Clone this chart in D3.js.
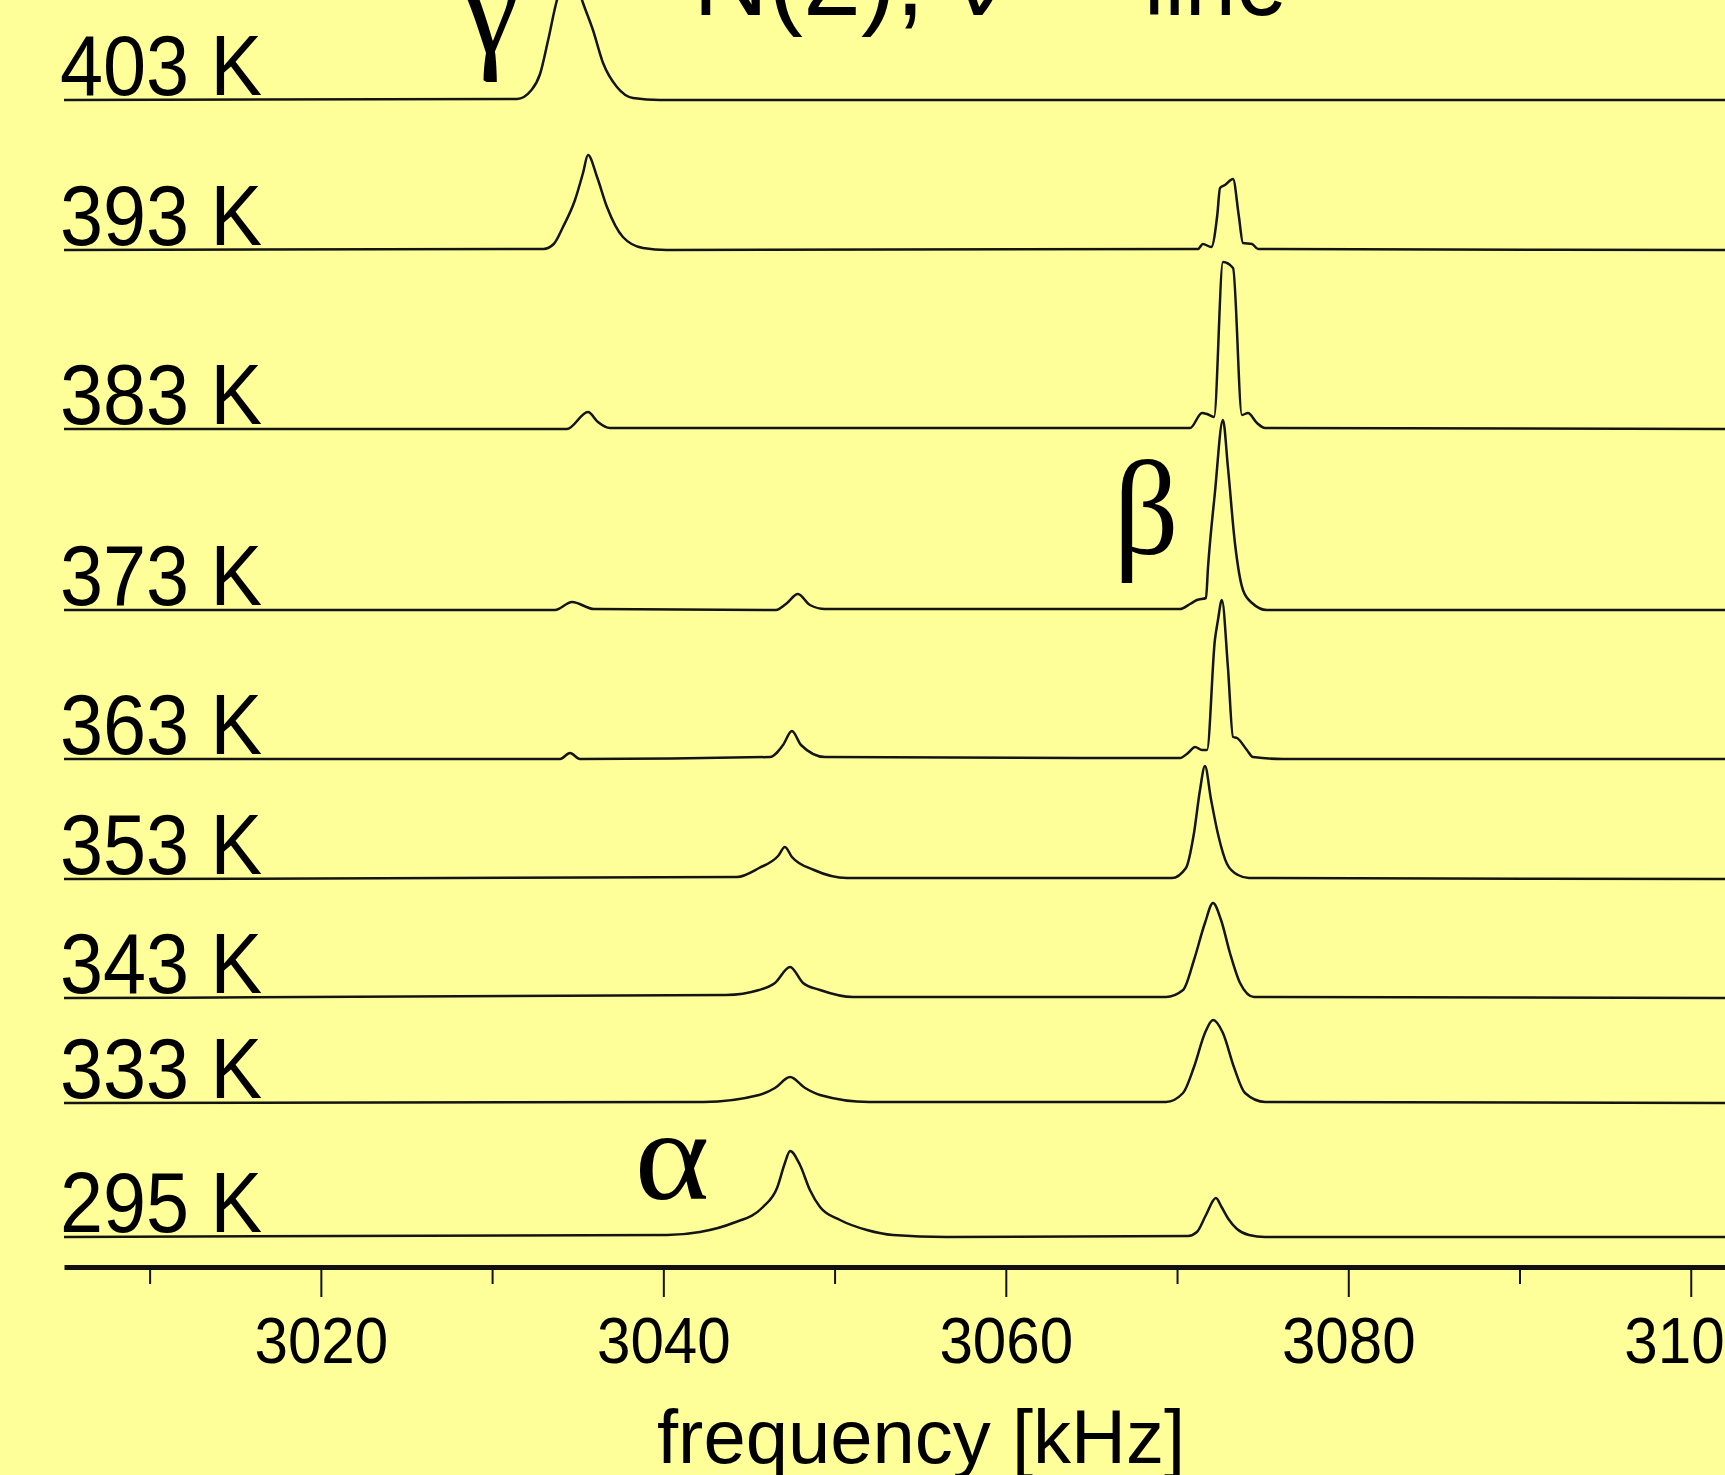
<!DOCTYPE html>
<html>
<head>
<meta charset="utf-8">
<script src="https://cdn.jsdelivr.net/npm/d3@7"></script>
<style>
  html, body { margin: 0; padding: 0; background: #ffff99; }
  svg { display: block; }
</style>
</head>
<body>
<div id="chart"></div>
<script>
// ---------------- DATA ----------------
const temperatures = ["403 K", "393 K", "383 K", "373 K", "363 K", "353 K", "343 K", "333 K", "295 K"];
// vertical offset of each trace (arbitrary intensity units)
const offsets = [116.7, 101.7, 83.8, 65.7, 50.8, 38.8, 26.9, 16.4, 3.0];

const majorTicks = [3020, 3040, 3060, 3080, 3100];
const minorTicks = [3010, 3030, 3050, 3070, 3090];
const xDomain = [3005, 3102];

// [frequency kHz, intensity a.u.]
const spec403 = [[3005,0],[3031.45,0.1],[3032.3,1.0],[3032.8,2.6],[3033.26,5.9],[3033.79,10.0],[3034.15,11.8],[3034.55,12.6],
  [3034.9,11.8],[3035.31,9.7],[3035.89,7.0],[3036.48,3.7],[3037.29,1.3],[3038.23,0.2],[3039.8,0],[3102,0]];
const spec393 = [[3005,0],[3033.0,0.1],[3033.6,0.6],[3034.14,2.3],[3034.84,5.0],[3035.31,7.7],[3035.60,9.5],[3036.13,7.3],
  [3036.71,4.3],[3037.64,1.3],[3038.81,0.2],[3040.21,0],[3071.22,0.1],[3071.51,0.6],[3072.0,0.3],[3072.35,3.5],[3072.51,6.2],
  [3072.8,6.5],[3073.27,7.1],[3073.6,3.5],[3073.85,0.7],[3074.38,0.6],[3074.73,0.1],[3102,0]];
const spec383 = [[3005,0],[3034.37,0],[3035.6,1.7],[3036.18,0.7],[3036.88,0.1],[3070.76,0.1],[3071.46,1.6],
  [3071.75,1.5],[3072.16,1.2],[3072.68,16.7],[3073.27,16.1],[3073.79,1.4],[3074.14,1.6],[3074.67,0.6],
  [3075.14,0.1],[3102,0]];
const spec373 = [[3005,0],[3033.67,0],[3034.67,0.8],[3035.95,0.1],[3046.58,0],[3047.16,0.6],[3047.86,1.6],
  [3048.56,0.5],[3049.44,0.1],[3070.17,0.1],[3070.76,0.6],[3071.16,1.0],[3071.69,1.2],[3071.81,4.3],
  [3072.21,11.7],[3072.68,19.0],[3072.97,14.3],[3073.38,6.7],[3073.85,2.0],[3074.38,0.7],[3075.25,0],[3102,0]];
const spec363 = [[3005,0],[3033.97,0],[3034.55,0.6],[3035.13,0],[3046.23,0.2],[3046.99,1.4],[3047.51,2.8],
  [3048.04,1.4],[3049.44,0.2],[3070.17,0.1],[3070.64,0.6],[3071.05,1.2],[3071.46,0.9],[3071.75,0.9],
  [3072.21,11.9],[3072.39,13.9],[3072.62,15.9],[3072.97,9.2],[3073.27,2.2],[3073.5,2.1],[3074.08,0.9],
  [3074.43,0.2],[3076.19,0],[3102,0]];
const spec353 = [[3005,0],[3044.30,0.2],[3045.59,1.1],[3046.70,2.3],[3047.10,3.2],[3047.51,2.2],[3048.80,0.9],
  [3050.73,0.1],[3069.70,0.1],[3070.52,1.1],[3070.99,4.6],[3071.34,8.9],[3071.63,11.3],[3071.98,8.0],
  [3072.39,4.5],[3072.92,1.5],[3073.56,0.4],[3074.20,0.1],[3102,0]];
const spec343 = [[3005,0],[3043.66,0.3],[3045.59,0.8],[3046.52,1.5],[3047.40,3.1],[3048.16,1.5],[3049.15,0.8],
  [3051.08,0.1],[3069.35,0.1],[3070.35,0.8],[3070.99,3.8],[3071.63,7.5],[3072.10,9.5],[3072.57,7.8],
  [3073.09,4.5],[3073.68,1.5],[3074.49,0.1],[3102,0]];
const spec333 = [[3005,0],[3042.37,0.1],[3045.59,0.8],[3046.52,1.5],[3047.40,2.6],[3048.28,1.5],[3049.15,0.8],
  [3052.01,0.1],[3069.35,0.1],[3070.35,1.0],[3070.99,3.6],[3071.63,7.0],[3072.10,8.3],[3072.68,7.0],
  [3073.32,3.6],[3073.97,1.0],[3075.14,0.1],[3102,0]];
const spec295 = [[3005,0],[3040.21,0.2],[3042.14,0.5],[3044.07,1.4],[3045.82,3.0],[3046.64,4.9],[3047.10,7.4],
  [3047.40,8.6],[3047.98,7.2],[3048.56,4.7],[3049.15,3.0],[3050.32,1.7],[3051.89,0.7],[3053.41,0.2],
  [3056.51,0],[3070.64,0.1],[3071.16,0.5],[3071.69,2.2],[3072.27,3.9],[3072.6,3.0],[3073.0,1.8],[3073.5,0.8],
  [3074.20,0.2],[3075.14,0],[3102,0]];
const spectra = [spec403, spec393, spec383, spec373, spec363, spec353, spec343, spec333, spec295];

const peakLabels = ["γ", "β", "α"];
const peakLabelPos = [[3029.9, 121.5], [3068.2, 71.3], [3040.5, 6.8]]; // [freq, intensity] anchor

// ---------------- CHART ----------------
const W = 1725, H = 1475;
const svg = d3.select("#chart").append("svg").attr("width", W).attr("height", H);
svg.append("rect").attr("width", W).attr("height", H).attr("fill", "#ffff99");

const x = d3.scaleLinear().domain(xDomain).range([64, 1725]);
const y = d3.scaleLinear().domain([0, 120]).range([1267, 67]);

const sans = "'Liberation Sans', Arial, Helvetica, sans-serif";
const serif = "'Liberation Serif', 'Times New Roman', serif";

// traces
const line = d3.line().x(d => x(d[0])).y(d => d[1]).curve(d3.curveMonotoneX);
spectra.forEach((s, i) => {
  const pts = s.map(d => [d[0], y(offsets[i] + d[1])]);
  svg.append("path").attr("d", line(pts))
    .attr("fill", "none").attr("stroke", "#141414").attr("stroke-width", 2.5)
    .attr("stroke-linejoin", "round");
});

// temperature labels
temperatures.forEach((t, i) => {
  svg.append("text")
    .attr("transform", `translate(60,${y(offsets[i]) - 5}) scale(0.9,1)`)
    .attr("font-family", sans).attr("font-size", 86).attr("fill", "#000")
    .text(t);
});

// x axis
const axisG = svg.append("g").attr("transform", `translate(0,${y(0)})`);
axisG.call(d3.axisBottom(x).tickValues(majorTicks).tickSize(30).tickSizeOuter(0).tickFormat(d3.format("d")));
axisG.select(".domain").attr("stroke", "#111").attr("stroke-width", 5);
axisG.selectAll(".tick line").attr("stroke", "#111").attr("stroke-width", 2);
axisG.selectAll(".tick text")
  .attr("y", 96).attr("dy", null)
  .attr("transform", "scale(0.94,1)")
  .attr("font-family", sans).attr("font-size", 64).attr("fill", "#000");

const minorG = svg.append("g").attr("transform", `translate(0,${y(0)})`);
minorG.call(d3.axisBottom(x).tickValues(minorTicks).tickSize(17).tickSizeOuter(0).tickFormat(""));
minorG.select(".domain").remove();
minorG.selectAll(".tick line").attr("stroke", "#111").attr("stroke-width", 2);

// x label
svg.append("text").attr("x", 921).attr("y", 1463).attr("text-anchor", "middle")
  .attr("font-family", sans).attr("font-size", 76).attr("fill", "#000")
  .text("frequency [kHz]");

// title (partly cropped at top)
const title = svg.append("text").attr("font-family", sans).attr("font-size", 105).attr("fill", "#000");
title.append("tspan").attr("x", 693).attr("y", 15).attr("textLength", 313).attr("lengthAdjust", "spacingAndGlyphs").text("N(2), ν");
title.append("tspan").attr("x", 1040).attr("y", -22).attr("font-size", 60).text("+");
title.append("tspan").attr("x", 1144).attr("y", 15).attr("textLength", 143).attr("lengthAdjust", "spacingAndGlyphs").text("line");

// greek peak labels
const greekSizes = [140, 135, 130];
const greekScale = [0.95, 0.95, 1.1];
peakLabels.forEach((g, i) => {
  svg.append("text")
    .attr("transform", `translate(${x(peakLabelPos[i][0])},${y(peakLabelPos[i][1])}) scale(${greekScale[i]},1)`)
    .attr("text-anchor", "middle")
    .attr("font-family", serif).attr("font-size", greekSizes[i]).attr("fill", "#000")
    .text(g);
});
</script>
</body>
</html>
